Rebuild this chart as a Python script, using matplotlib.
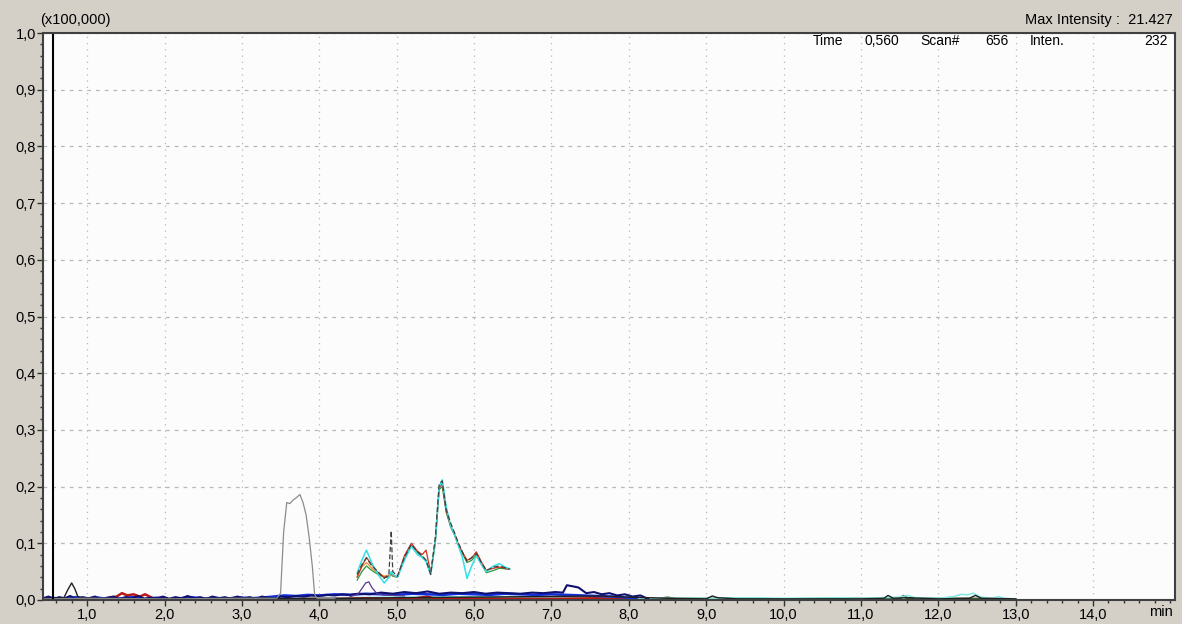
import matplotlib.pyplot as plt
from matplotlib.ticker import MultipleLocator

plt.rcParams['font.family'] = ['Liberation Sans', 'DejaVu Sans']

# axis ticks
x_ticks = [1, 2, 3, 4, 5, 6, 7, 8, 9, 10, 11, 12, 13, 14]
x_tick_labels = ["1,0", "2,0", "3,0", "4,0", "5,0", "6,0", "7,0", "8,0", "9,0", "10,0", "11,0", "12,0", "13,0", "14,0"]
y_ticks = [0.0, 0.1, 0.2, 0.3, 0.4, 0.5, 0.6, 0.7, 0.8, 0.9, 1.0]
y_tick_labels = ["0,0", "0,1", "0,2", "0,3", "0,4", "0,5", "0,6", "0,7", "0,8", "0,9", "1,0"]

# grey trace, peak around 3.7 min
grey_t = [0.43, 1.0, 2.0, 3.0, 3.45, 3.50, 3.54, 3.58, 3.62, 3.66, 3.70, 3.75, 3.79, 3.83, 3.87, 3.91, 3.94, 3.97, 4.2]
grey_v = [0.002, 0.003, 0.002, 0.003, 0.003, 0.012, 0.120, 0.172, 0.170, 0.176, 0.180, 0.186, 0.172, 0.150, 0.110, 0.060, 0.010, 0.003, 0.003]

# cluster 4.5 - 6.5 min (four ions)
clus_t = [4.49, 4.55, 4.61, 4.68, 4.76, 4.84, 4.90, 4.93, 4.95, 5.01, 5.10, 5.19, 5.27, 5.33, 5.38, 5.44,
          5.50, 5.55, 5.59, 5.64, 5.70, 5.75, 5.80, 5.85, 5.91, 5.97, 6.03, 6.10, 6.16, 6.25, 6.33, 6.40, 6.46]
dark_v = [0.045, 0.062, 0.074, 0.060, 0.050, 0.038, 0.045, 0.122, 0.050, 0.042, 0.075, 0.098, 0.085, 0.078, 0.070, 0.045,
          0.110, 0.205, 0.210, 0.160, 0.135, 0.118, 0.100, 0.085, 0.068, 0.075, 0.082, 0.065, 0.052, 0.058, 0.060, 0.057, 0.055]
cyan_v = [0.048, 0.070, 0.088, 0.065, 0.045, 0.030, 0.040, 0.050, 0.045, 0.040, 0.070, 0.095, 0.080, 0.075, 0.068, 0.045,
          0.105, 0.200, 0.212, 0.165, 0.130, 0.115, 0.095, 0.075, 0.038, 0.060, 0.078, 0.062, 0.050, 0.060, 0.064, 0.058, 0.055]
red_v = [0.040, 0.060, 0.075, 0.062, 0.048, 0.040, 0.042, 0.048, 0.044, 0.040, 0.078, 0.100, 0.086, 0.080, 0.088, 0.048,
         0.105, 0.198, 0.205, 0.158, 0.130, 0.115, 0.098, 0.084, 0.070, 0.074, 0.085, 0.066, 0.052, 0.056, 0.058, 0.056, 0.054]
green_v = [0.035, 0.050, 0.060, 0.052, 0.045, 0.040, 0.040, 0.045, 0.042, 0.040, 0.072, 0.096, 0.084, 0.076, 0.070, 0.046,
           0.100, 0.195, 0.200, 0.155, 0.128, 0.114, 0.096, 0.082, 0.066, 0.070, 0.080, 0.062, 0.048, 0.052, 0.056, 0.055, 0.054]
orange_t = [4.49, 4.55, 4.61, 4.68, 4.76, 4.84, 4.90, 4.95, 5.01]
orange_v = [0.042, 0.058, 0.066, 0.056, 0.047, 0.042, 0.044, 0.043, 0.041]

# small purple peak at 4.6 min
purple_t = [4.40, 4.50, 4.55, 4.60, 4.64, 4.68, 4.74, 4.82, 4.95, 5.10]
purple_v = [0.006, 0.010, 0.020, 0.030, 0.032, 0.022, 0.012, 0.009, 0.008, 0.007]

# baseline traces
navy_t = [0.43, 0.50, 0.57, 0.64, 0.71, 0.78, 0.86, 0.94, 1.02, 1.10, 1.18, 1.26, 1.34, 1.42, 1.50, 1.58, 1.66,
          1.74, 1.82, 1.90, 1.98, 2.06, 2.14, 2.22, 2.30, 2.38, 2.46, 2.54, 2.62, 2.70, 2.78, 2.86, 2.94, 3.02,
          3.10, 3.18, 3.26, 3.34, 3.42, 3.50, 3.60, 3.70, 3.80, 3.90, 4.00, 4.10, 4.20, 4.30, 4.40, 4.50, 4.65,
          4.80, 4.95, 5.10, 5.25, 5.40, 5.55, 5.70, 5.85, 6.00, 6.15, 6.30, 6.45, 6.60, 6.75, 6.90, 7.05, 7.15,
          7.20, 7.28, 7.35, 7.45, 7.55, 7.65, 7.75, 7.85, 7.95, 8.05, 8.15, 8.25]
navy_v = [0.003, 0.006, 0.002, 0.005, 0.003, 0.007, 0.002, 0.005, 0.003, 0.006, 0.002, 0.004, 0.006, 0.002, 0.005,
          0.003, 0.007, 0.002, 0.004, 0.003, 0.006, 0.002, 0.005, 0.003, 0.007, 0.003, 0.005, 0.002, 0.006, 0.003,
          0.005, 0.002, 0.006, 0.003, 0.005, 0.002, 0.006, 0.004, 0.003, 0.006, 0.005, 0.007, 0.006, 0.008, 0.007,
          0.009, 0.008, 0.010, 0.009, 0.011, 0.010, 0.013, 0.011, 0.014, 0.012, 0.015, 0.011, 0.013, 0.012, 0.014,
          0.011, 0.013, 0.012, 0.011, 0.013, 0.012, 0.014, 0.013, 0.026, 0.024, 0.022, 0.012, 0.014, 0.010, 0.012,
          0.008, 0.010, 0.006, 0.008, 0.002]
blue_t = [0.43, 0.55, 0.70, 0.85, 1.00, 1.15, 1.30, 1.45, 1.60, 1.75, 1.90, 2.05, 2.20, 2.35, 2.50, 2.65, 2.80,
          2.95, 3.10, 3.25, 3.40, 3.55, 3.70, 3.85, 4.00, 4.20, 4.40, 4.60, 4.80, 5.00, 5.20, 5.40, 5.60, 5.80,
          6.00, 6.20, 6.40, 6.60, 6.80, 7.00, 7.20, 7.40, 7.60, 7.80, 8.00, 8.10]
blue_v = [0.002, 0.004, 0.001, 0.005, 0.002, 0.004, 0.001, 0.003, 0.005, 0.002, 0.004, 0.001, 0.003, 0.005, 0.002,
          0.004, 0.002, 0.005, 0.003, 0.004, 0.006, 0.008, 0.007, 0.009, 0.008, 0.010, 0.009, 0.011, 0.010, 0.009,
          0.011, 0.010, 0.009, 0.011, 0.010, 0.009, 0.011, 0.010, 0.009, 0.010, 0.009, 0.008, 0.007, 0.006, 0.004, 0.002]
black_t = [0.43, 0.60, 0.70, 0.75, 0.80, 0.84, 0.88, 0.95, 1.30, 2.00, 3.00, 4.00, 5.00, 6.00, 6.80, 7.60, 8.00,
           8.50, 9.00, 9.08, 9.15, 9.40, 10.0, 10.6, 11.0, 11.30, 11.35, 11.42, 11.60, 12.0, 12.40, 12.48, 12.56, 13.0]
black_v = [0.002, 0.003, 0.004, 0.018, 0.030, 0.020, 0.006, 0.003, 0.002, 0.002, 0.003, 0.002, 0.004, 0.005, 0.006,
           0.007, 0.005, 0.003, 0.002, 0.007, 0.004, 0.002, 0.002, 0.002, 0.002, 0.003, 0.008, 0.003, 0.004, 0.002,
           0.003, 0.008, 0.003, 0.002]
red_t = [0.43, 0.80, 1.20, 1.38, 1.45, 1.52, 1.60, 1.68, 1.75, 1.85, 2.20, 2.80, 3.40, 3.80, 4.20, 4.60, 5.20,
         5.40, 5.50, 5.80, 6.40, 7.00, 7.60, 8.00]
red_b = [0.002, 0.001, 0.002, 0.006, 0.012, 0.008, 0.010, 0.006, 0.010, 0.003, 0.001, 0.002, 0.001, 0.002, 0.002,
         0.003, 0.002, 0.006, 0.002, 0.003, 0.002, 0.002, 0.003, 0.001]
olive_t = [0.43, 2.0, 4.0, 6.0, 8.0, 8.4, 8.5, 8.6, 9.0, 9.5, 10.0, 10.5, 10.7, 11.0, 11.5, 11.55, 11.6, 12.0, 12.5, 13.0]
olive_v = [0.001, 0.001, 0.001, 0.002, 0.002, 0.002, 0.004, 0.002, 0.002, 0.002, 0.001, 0.002, 0.003, 0.002, 0.002,
           0.007, 0.003, 0.002, 0.002, 0.001]
cyan_t = [3.40, 4.00, 5.00, 6.60, 7.00, 8.00, 9.00, 9.60, 10.0, 10.8, 11.0, 11.50, 11.60, 11.70, 12.0, 12.20,
          12.30, 12.38, 12.45, 12.55, 12.70, 12.78, 12.85, 13.0]
cyan_b = [0.004, 0.004, 0.005, 0.006, 0.004, 0.003, 0.003, 0.004, 0.003, 0.004, 0.003, 0.005, 0.008, 0.004, 0.003,
          0.006, 0.010, 0.009, 0.012, 0.005, 0.003, 0.006, 0.003, 0.002]

fig = plt.figure(figsize=(11.82, 6.24), dpi=100, facecolor='#d4d0c8')
ax = fig.add_axes([0.0364, 0.0385, 0.9577, 0.9085])
ax.set_facecolor('#fcfcfc')

lw = 0.9
ax.plot(olive_t, olive_v, color='#3a5a2a', lw=1.8)
ax.plot(cyan_t, cyan_b, color='#7fe8e0', lw=1.1)
ax.plot(red_t, red_b, color='#b81818', lw=1.8)
ax.plot(blue_t, blue_v, color='#1030e0', lw=1.8)
ax.plot(navy_t, navy_v, color='#101070', lw=1.5)
ax.plot(black_t, black_v, color='#202020', lw=1.0)
ax.plot(grey_t, grey_v, color='#8c8c8c', lw=lw)
ax.plot(purple_t, purple_v, color='#5a3a8a', lw=lw)
ax.plot(clus_t, green_v, color='#2a9a3a', lw=lw)
ax.plot(orange_t, orange_v, color='#e89030', lw=lw)
ax.plot(clus_t, red_v, color='#d03020', lw=lw)
ax.plot(clus_t, cyan_v, color='#30e0e8', lw=1.1)
ax.plot(clus_t, dark_v, color='#404040', lw=lw, ls=(0, (4, 2)))

# cursor line
ax.axvline(0.56, color='black', lw=1.5)

ax.set_xlim(0.43, 15.06)
ax.set_ylim(0.0, 1.0)
ax.set_xticks(x_ticks)
ax.set_xticklabels(x_tick_labels)
ax.set_yticks(y_ticks)
ax.set_yticklabels(y_tick_labels)
ax.xaxis.set_minor_locator(MultipleLocator(0.2))
ax.yaxis.set_minor_locator(MultipleLocator(0.02))
ax.tick_params(axis='both', which='major', length=4, width=1, color='#303030', labelsize=10.5, pad=1)
ax.tick_params(axis='x', which='major', pad=2)
ax.tick_params(axis='both', which='minor', length=2.5, width=1, color='#303030')

ax.grid(True, axis='x', color='#b8b8b8', ls=(0, (1, 4)), lw=0.9)
ax.grid(True, axis='y', color='#b8b8b8', ls=(0, (3, 4)), lw=0.9)

for side in ['left', 'bottom', 'top', 'right']:
    ax.spines[side].set_color('#404040')
    ax.spines[side].set_linewidth(1.5)

fig.text(0.034, 0.968, "(x100,000)", fontsize=10.5, ha='left', va='center')
fig.text(0.992, 0.968, "Max Intensity :  21.427", fontsize=10.5, ha='right', va='center')
fig.text(0.982, 0.019, "min", fontsize=10.5, ha='center', va='center')

info_y = 0.986
ax.text(0.680, info_y, "Time", transform=ax.transAxes, fontsize=10, ha='left', va='center')
ax.text(0.726, info_y, "0,560", transform=ax.transAxes, fontsize=10, ha='left', va='center')
ax.text(0.775, info_y, "Scan#", transform=ax.transAxes, fontsize=10, ha='left', va='center')
ax.text(0.832, info_y, "656", transform=ax.transAxes, fontsize=10, ha='left', va='center')
ax.text(0.872, info_y, "Inten.", transform=ax.transAxes, fontsize=10, ha='left', va='center')
ax.text(0.9938, info_y, "232", transform=ax.transAxes, fontsize=10, ha='right', va='center')

fig.savefig('out.png', dpi=100, facecolor=fig.get_facecolor())
